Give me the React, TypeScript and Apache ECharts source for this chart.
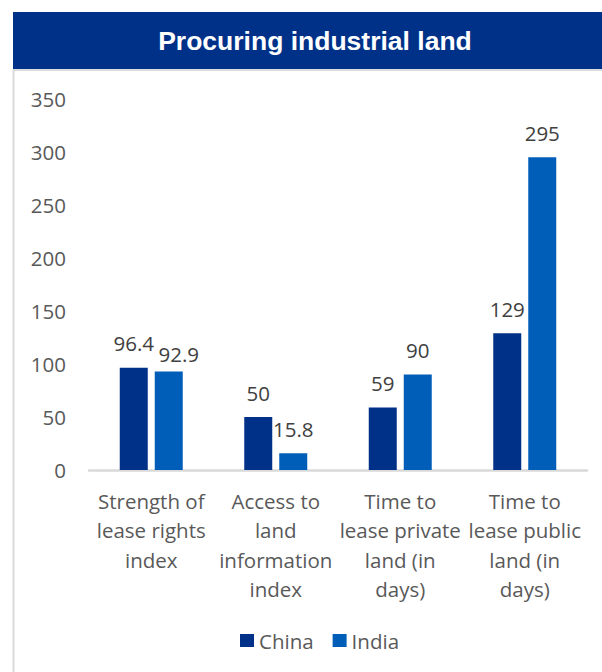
import React, { useEffect, useRef } from "react";
import * as echarts from "echarts";

// Category labels (line breaks as they wrap under each bar group)
const categories = [
  "Strength of\nlease rights\nindex",
  "Access to\nland\ninformation\nindex",
  "Time to\nlease private\nland (in\ndays)",
  "Time to\nlease public\nland (in\ndays)",
];
const chinaValues = [96.4, 50, 59, 129];
const indiaValues = [92.9, 15.8, 90, 295];
const yTicks = { min: 0, max: 350, interval: 50 };
const titleText = "Procuring industrial land";

const NAVY = "#003189";
const BLUE = "#005EB8";
const FONT = "'Open Sans', 'Noto Sans', sans-serif";

export default function App() {
  const ref = useRef<HTMLDivElement>(null);

  useEffect(() => {
    if (!ref.current) return;
    const chart = echarts.init(ref.current, null, { renderer: "svg" });

    const labelStyle = {
      show: true,
      position: "top" as const,
      distance: 14,
      fontFamily: FONT,
      fontSize: 20.5,
      color: "#404040",
    };

    chart.setOption({
      animation: false,
      backgroundColor: "#ffffff",
      textStyle: { fontFamily: FONT },
      graphic: [
        {
          type: "rect",
          shape: { x: 13, y: 12, width: 589, height: 57 },
          style: { fill: NAVY },
          silent: true,
        },
        {
          type: "line",
          shape: { x1: 13, y1: 70, x2: 602, y2: 70 },
          style: { stroke: "#DDDDDD", lineWidth: 2 },
          silent: true,
        },
        {
          type: "line",
          shape: { x1: 13.5, y1: 69, x2: 13.5, y2: 672 },
          style: { stroke: "#D9D9D9", lineWidth: 2 },
          silent: true,
        },
        {
          type: "text",
          x: 315,
          y: 40.5,
          style: {
            text: titleText,
            fill: "#ffffff",
            font: "bold 26.5px 'Liberation Sans', Arial, sans-serif",
            textAlign: "center",
            textVerticalAlign: "middle",
          },
          silent: true,
        },
      ],
      legend: {
        left: 240,
        top: 630,
        padding: 0,
        itemWidth: 14,
        itemHeight: 13,
        itemGap: 19,
        icon: "rect",
        textStyle: { fontFamily: FONT, fontSize: 20.5, color: "#595959" },
        data: ["China", "India"],
      },
      grid: { left: 89, right: 15, top: 99, bottom: 202, containLabel: false },
      xAxis: {
        type: "category",
        data: categories,
        axisLine: { show: true, lineStyle: { color: "#D9D9D9", width: 2.5 } },
        axisTick: { show: false },
        axisLabel: {
          interval: 0,
          margin: 16,
          fontFamily: FONT,
          fontSize: 20.5,
          lineHeight: 29.5,
          color: "#595959",
          align: "center",
        },
        splitLine: { show: false },
      },
      yAxis: {
        type: "value",
        min: yTicks.min,
        max: yTicks.max,
        interval: yTicks.interval,
        axisLine: { show: false },
        axisTick: { show: false },
        splitLine: { show: false },
        axisLabel: {
          margin: 23,
          fontFamily: FONT,
          fontSize: 20.5,
          color: "#595959",
          padding: [0, 0, 3, 0],
        },
      },
      series: [
        {
          name: "China",
          type: "bar",
          barWidth: 28,
          barGap: "25%",
          itemStyle: { color: NAVY },
          label: labelStyle,
          data: chinaValues,
        },
        {
          name: "India",
          type: "bar",
          barWidth: 28,
          barGap: "25%",
          itemStyle: { color: BLUE },
          label: labelStyle,
          // the first India label is nudged aside so it clears its neighbour
          data: indiaValues.map((v, i) =>
            i === 0 ? { value: v, label: { offset: [10, 7] } } : v
          ),
        },
      ],
    });

    return () => chart.dispose();
  }, []);

  return (
    <div
      ref={ref}
      style={{ position: "absolute", left: 0, top: 0, width: 602, height: 672 }}
    />
  );
}
